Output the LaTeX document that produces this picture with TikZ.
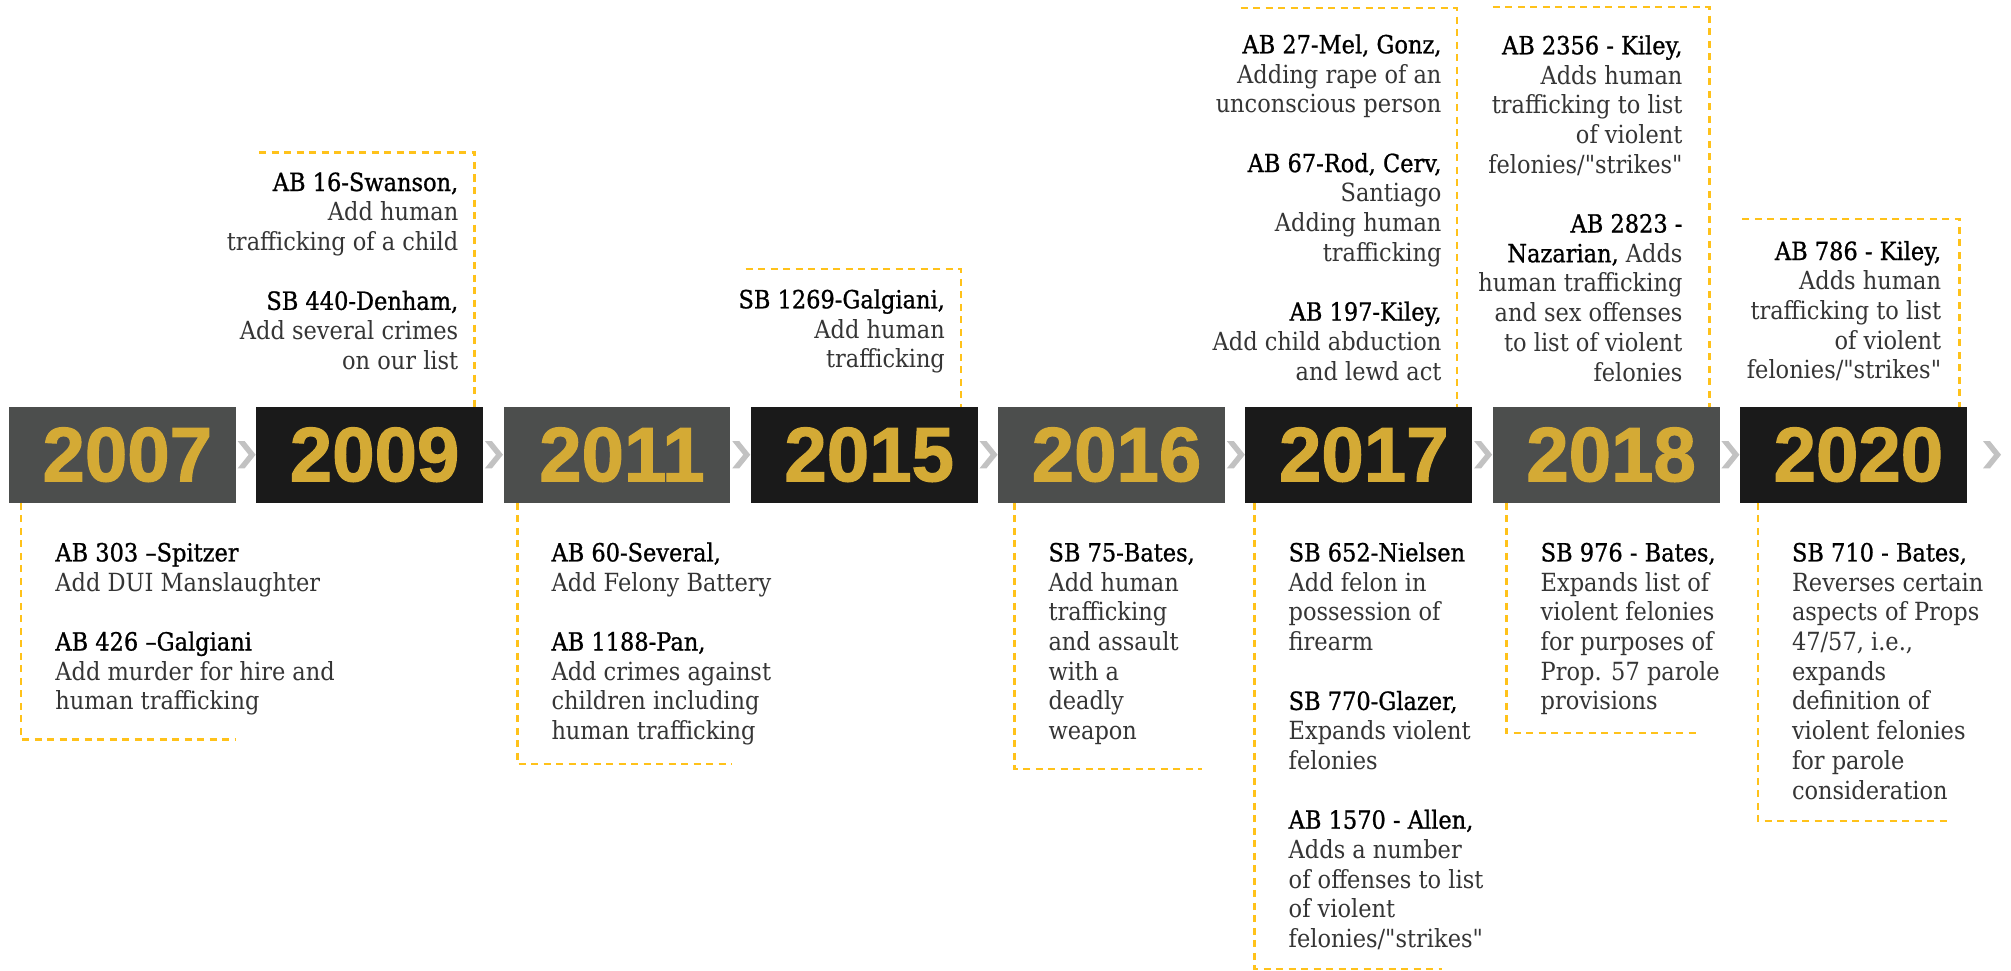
\documentclass[tikz,border=0pt]{standalone}
\usepackage{fontspec}
\usetikzlibrary{positioning,calc}

\newfontfamily\slabfont[FakeStretch=0.9]{DejaVu Serif}
\newfontfamily\titlefont[FakeStretch=0.9,FakeBold=0.9]{DejaVu Serif}
\newfontfamily\yearfont[FakeStretch=0.99,FakeBold=1.5]{Liberation Sans}

\definecolor{boxgray}{HTML}{4C4E4D}
\definecolor{boxblack}{HTML}{1A1A1A}
\definecolor{gold}{HTML}{D4AA35}
\definecolor{dashyellow}{HTML}{FFC21A}
\definecolor{chevgray}{HTML}{C2C2C2}
\definecolor{bodygray}{HTML}{353535}

\newcommand{\billname}[1]{{\titlefont\color{black}#1}}
\newcommand{\firstline}{\rule{0pt}{20pt}}

\begin{document}
\begin{tikzpicture}[x=1pt,y=-1pt,node distance=247.3pt,
    year/.style={minimum width=226.8pt,minimum height=96pt,inner sep=0pt,text=gold,font=\yearfont\bfseries\fontsize{77}{77}\selectfont,execute at begin node=\hspace*{10pt}},
    abovetxt/.style={anchor=north east,align=right,inner sep=0pt,text=bodygray,font=\slabfont\fontsize{25}{29.7}\selectfont},
    belowtxt/.style={anchor=north west,align=left,inner sep=0pt,text=bodygray,font=\slabfont\fontsize{25}{29.7}\selectfont},
    dashframe/.style={draw=dashyellow,line width=2.5pt,dash pattern=on 7pt off 5.5pt},
    chev/.style={fill=chevgray}]

    \fill[white] (0,0) rectangle (2011,971);
    \useasboundingbox (0,0) rectangle (2011,971);

    % years
    \node[year, fill=boxgray] (y2007) at (122.3,454.7) {2007};
    \node[year, fill=boxblack] (y2009) [right of = y2007] {2009};
    \node[year, fill=boxgray] (y2011) [right of = y2009] {2011};
    \node[year, fill=boxblack] (y2015) [right of = y2011] {2015};
    \node[year, fill=boxgray] (y2016) [right of = y2015] {2016};
    \node[year, fill=boxblack] (y2017) [right of = y2016] {2017};
    \node[year, fill=boxgray] (y2018) [right of = y2017] {2018};
    \node[year, fill=boxblack] (y2020) [right of = y2018] {2020};

    % chevrons between the years
    \foreach \a/\b [count=\i] in {y2007/y2009,y2009/y2011,y2011/y2015,y2015/y2016,y2016/y2017,y2017/y2018,y2018/y2020}
        \coordinate (c\i) at ($(\a.east)!0.5!(\b.west)$);
    \coordinate (c8) at ([xshift=24.3pt]y2020.east);
    \foreach \i in {1,...,8}
        \fill[chev] (c\i) +(-8.3,-13.6) -- +(-1.3,-13.6) -- +(9.7,0) -- +(-1.3,13.6) -- +(-8.3,13.6) -- +(2.7,0) -- cycle;

    % bills above
    \node[abovetxt] (t2009) at ([shift={(-24.7,-235.7)}]y2009.north east)
        {\firstline\billname{AB 16-Swanson,}\\ Add human\\ trafficking of a child\\ ~\\ \billname{SB 440-Denham,}\\ Add several crimes\\ on our list};
    \node[abovetxt] (t2015) at ([shift={(-32.7,-118.4)}]y2015.north east)
        {\firstline\billname{SB 1269-Galgiani,}\\ Add human\\ trafficking};
    \node[abovetxt] (t2017a) at ([shift={(-30.7,-373.4)}]y2017.north east)
        {\firstline\billname{AB 27-Mel, Gonz,}\\ Adding rape of an\\ unconscious person\\ ~\\ \billname{AB 67-Rod, Cerv,}\\ Santiago\\ Adding human\\ trafficking\\ ~\\ \billname{AB 197-Kiley,}\\ Add child abduction\\ and lewd act};
    \node[abovetxt] (t2018a) at ([shift={(-37,-372.4)}]y2018.north east)
        {\firstline\billname{AB 2356 - Kiley,}\\ Adds human\\ trafficking to list\\ of violent\\ felonies/"strikes"\\ ~\\ \billname{AB 2823 -}\\ \billname{Nazarian,} Adds\\ human trafficking\\ and sex offenses\\ to list of violent\\ felonies};
    \node[abovetxt] (t2020a) at ([shift={(-25.7,-166.7)}]y2020.north east)
        {\firstline\billname{AB 786 - Kiley,}\\ Adds human\\ trafficking to list\\ of violent\\ felonies/"strikes"};

    % bills below
    \node[belowtxt] (t2007) at ([shift={(46.5,38.3)}]y2007.south west)
        {\firstline\billname{AB 303 –Spitzer}\\ Add DUI Manslaughter\\ ~\\ \billname{AB 426 –Galgiani}\\ Add murder for hire and\\ human trafficking};
    \node[belowtxt] (t2011) at ([shift={(48,38.3)}]y2011.south west)
        {\firstline\billname{AB 60-Several,}\\ Add Felony Battery\\ ~\\ \billname{AB 1188-Pan,}\\ Add crimes against\\ children including\\ human trafficking};
    \node[belowtxt] (t2016) at ([shift={(50.4,38.3)}]y2016.south west)
        {\firstline\billname{SB 75-Bates,}\\ Add human\\ trafficking\\ and assault\\ with a\\ deadly\\ weapon};
    \node[belowtxt] (t2017b) at ([shift={(43.3,38.3)}]y2017.south west)
        {\firstline\billname{SB 652-Nielsen}\\ Add felon in\\ possession of\\ firearm\\ ~\\ \billname{SB 770-Glazer,}\\ Expands violent\\ felonies\\ ~\\ \billname{AB 1570 - Allen,}\\ Adds a number\\ of offenses to list\\ of violent\\ felonies/"strikes"};
    \node[belowtxt] (t2018b) at ([shift={(48,38.3)}]y2018.south west)
        {\firstline\billname{SB 976 - Bates,}\\ Expands list of\\ violent felonies\\ for purposes of\\ Prop. 57 parole\\ provisions};
    \node[belowtxt] (t2020b) at ([shift={(52,38.3)}]y2020.south west)
        {\firstline\billname{SB 710 - Bates,}\\ Reverses certain\\ aspects of Props\\ 47/57, i.e.,\\ expands\\ definition of\\ violent felonies\\ for parole\\ consideration};

    % dashed frames above
    \draw[dashframe] ([shift={(3,-254)}]y2009.north west) -| ([xshift=-8.7pt]y2009.north east);
    \draw[dashframe] ([shift={(-5,-137.4)}]y2015.north west) -| ([xshift=-17pt]y2015.north east);
    \draw[dashframe] ([shift={(-4.5,-398.4)}]y2017.north west) -| ([xshift=-15.2pt]y2017.north east);
    \draw[dashframe] ([shift={(0.3,-399.4)}]y2018.north west) -| ([xshift=-10.4pt]y2018.north east);
    \draw[dashframe] ([shift={(2.5,-187.7)}]y2020.north west) -| ([xshift=-7.7pt]y2020.north east);

    % dashed frames below
    \draw[dashframe] ($(t2007.west |- y2007.south)+(-34,0)$) |- ++(215,236.6);
    \draw[dashframe] ($(t2011.west |- y2011.south)+(-34,0)$) |- ++(214,261.3);
    \draw[dashframe] ($(t2016.west |- y2016.south)+(-34,0)$) |- ++(187.7,266);
    \draw[dashframe] ($(t2017b.west |- y2017.south)+(-34,0)$) |- ++(187.7,466);
    \draw[dashframe] ($(t2018b.west |- y2018.south)+(-34,0)$) |- ++(191,230.3);
    \draw[dashframe] ($(t2020b.west |- y2020.south)+(-34,0)$) |- ++(192,318.3);
\end{tikzpicture}
\end{document}
